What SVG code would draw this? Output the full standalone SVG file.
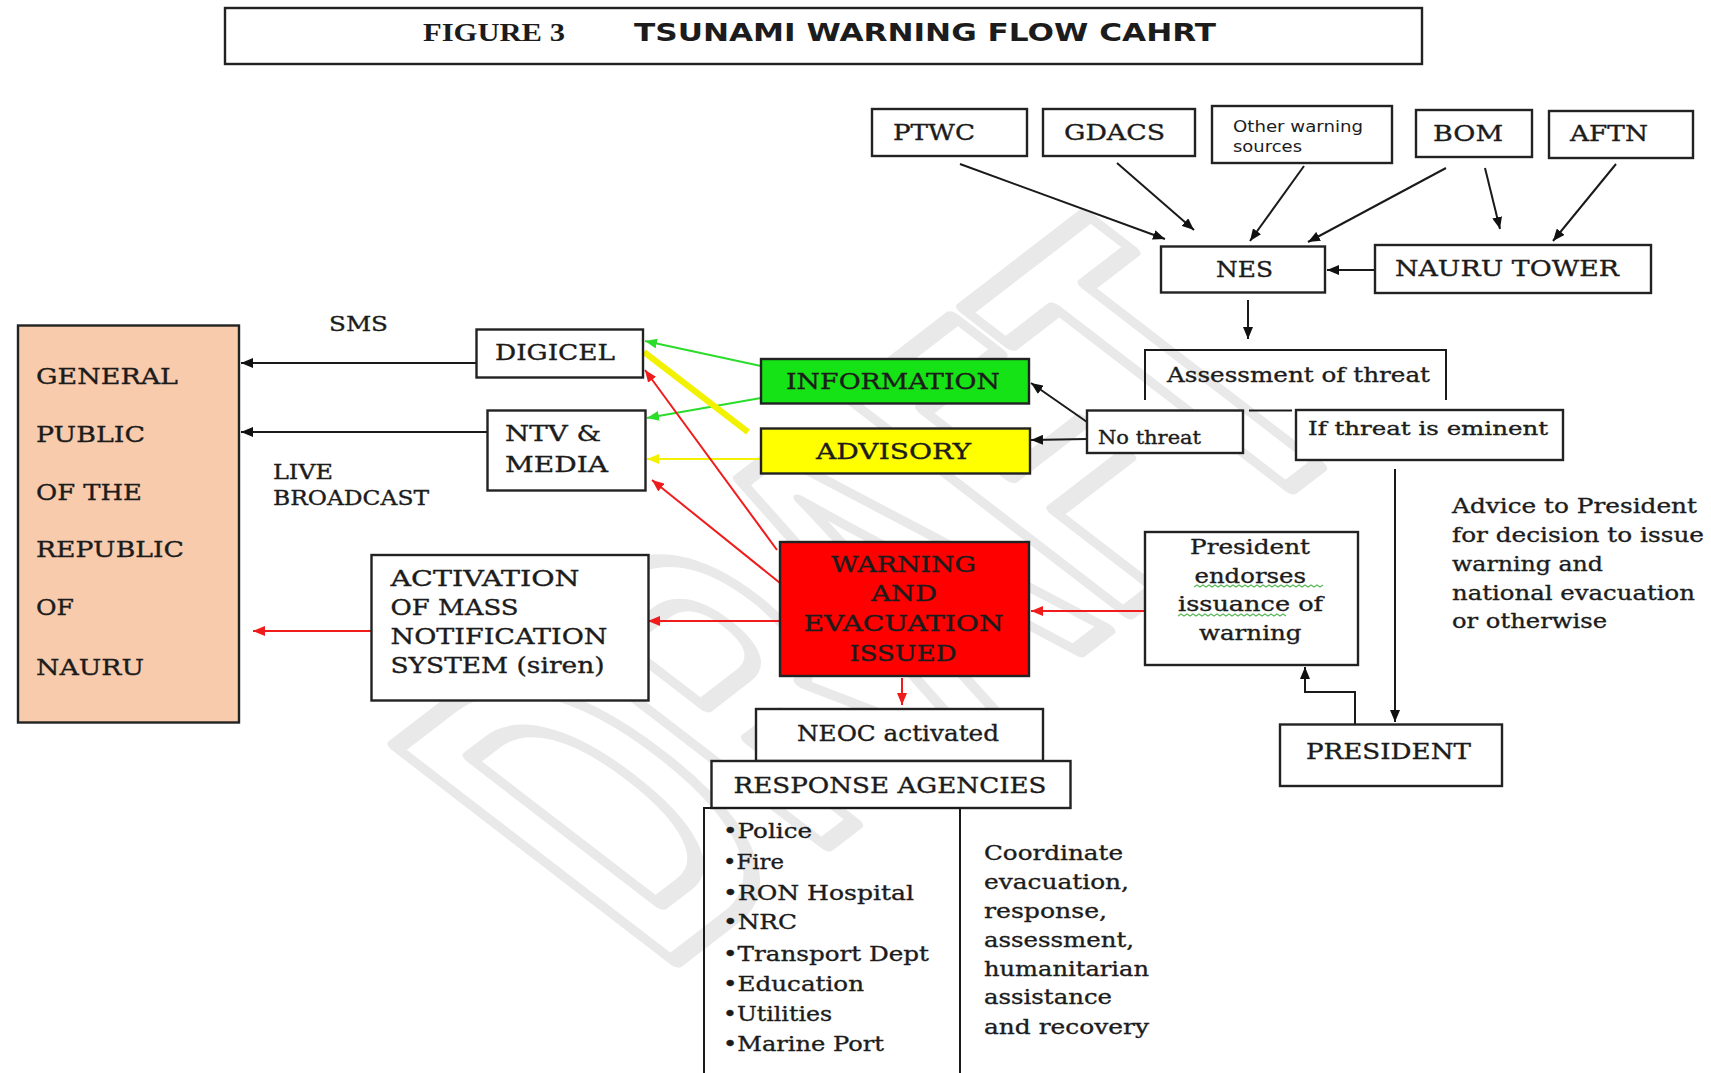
<svg xmlns="http://www.w3.org/2000/svg" width="1711" height="1073" viewBox="0 0 1711 1073">
<defs>
<style>
.bx{fill:#fff;stroke:#222;stroke-width:2.4}
.t{font-family:"DejaVu Serif","Liberation Serif",serif;fill:#1c1c1c;stroke:#1c1c1c;stroke-width:0.35}
.s{font-family:"DejaVu Sans","Liberation Sans",sans-serif;fill:#1c1c1c}
.ln{fill:none;stroke:#1a1a1a;stroke-width:2}
.rd{fill:none;stroke:#f01c1c;stroke-width:2}
.gr{fill:none;stroke:#2bdc2b;stroke-width:2}
.ye{fill:none;stroke:#f2f200;stroke-width:2}
.sq{fill:none;stroke:#5cb85c;stroke-width:1.3}
</style>
<marker id="ab" viewBox="0 0 12 10" refX="12" refY="5" markerWidth="12" markerHeight="10" markerUnits="userSpaceOnUse" orient="auto"><path d="M0,0 L12,5 L0,10 z" fill="#111"/></marker>
<marker id="ar" viewBox="0 0 12 10" refX="12" refY="5" markerWidth="12" markerHeight="10" markerUnits="userSpaceOnUse" orient="auto"><path d="M0,0 L12,5 L0,10 z" fill="#f01c1c"/></marker>
<marker id="ag" viewBox="0 0 12 10" refX="12" refY="5" markerWidth="12" markerHeight="10" markerUnits="userSpaceOnUse" orient="auto"><path d="M0,0 L12,5 L0,10 z" fill="#2bdc2b"/></marker>
<marker id="ay" viewBox="0 0 12 10" refX="12" refY="5" markerWidth="12" markerHeight="10" markerUnits="userSpaceOnUse" orient="auto"><path d="M0,0 L12,5 L0,10 z" fill="#f2f200"/></marker>
</defs>
<rect width="1711" height="1073" fill="#fff"/>

<g id="watermark">
<text transform="translate(660,972) scale(1.3,1) rotate(-45)" x="0" y="0" font-family="Liberation Sans, sans-serif" font-weight="bold" font-size="440" textLength="770" lengthAdjust="spacingAndGlyphs" fill="none" stroke="#e9e9e9" stroke-width="16" stroke-linejoin="round">DRAFT</text>
</g>

<g id="title">
<rect class="bx" x="225" y="8" width="1197" height="56"/>
<text x="423" y="41" font-family="Liberation Serif, serif" font-weight="bold" font-size="25" fill="#1c1c1c" textLength="142" lengthAdjust="spacingAndGlyphs">FIGURE 3</text>
<text x="634" y="41" font-family="DejaVu Sans, sans-serif" font-weight="bold" font-size="24" fill="#1c1c1c" textLength="582" lengthAdjust="spacingAndGlyphs">TSUNAMI WARNING FLOW CAHRT</text>
</g>

<g id="connectors">
<path class="ln" d="M960,164 L1165,239" marker-end="url(#ab)"/>
<path class="ln" d="M1117,163 L1194,230" marker-end="url(#ab)"/>
<path class="ln" d="M1304,166 L1250,241" marker-end="url(#ab)"/>
<path class="ln" d="M1446,168 L1308,242" marker-end="url(#ab)"/>
<path class="ln" d="M1485,168 L1500,229" marker-end="url(#ab)"/>
<path class="ln" d="M1616,164 L1553,241" marker-end="url(#ab)"/>
<path class="ln" d="M1374,270 L1327,270" marker-end="url(#ab)"/>
<path class="ln" d="M1248,300 L1248,339" marker-end="url(#ab)"/>
<path class="ln" d="M1087,422 L1031,383" marker-end="url(#ab)"/>
<path class="ln" d="M1087,439 L1031,440" marker-end="url(#ab)"/>
<path class="ln" d="M1395,469 L1395,722" marker-end="url(#ab)"/>
<path class="ln" d="M1355,724 L1355,692 L1305,692 L1305,667" marker-end="url(#ab)"/>
<path class="ln" d="M476,363 L241,363" marker-end="url(#ab)"/>
<path class="ln" d="M487,432 L241,432" marker-end="url(#ab)"/>
<path class="gr" d="M761,366 L645,341" marker-end="url(#ag)"/>
<path class="gr" d="M761,398 L647,418" marker-end="url(#ag)"/>
<path d="M748,432 L644,352" fill="none" stroke="#f2f200" stroke-width="6"/>
<path class="ye" d="M761,459 L647,459" marker-end="url(#ay)"/>
<path class="rd" d="M777,550 L645,370" marker-end="url(#ar)"/>
<path class="rd" d="M780,583 L652,480" marker-end="url(#ar)"/>
<path class="rd" d="M780,621 L648,621" marker-end="url(#ar)"/>
<path class="rd" d="M371,631 L253,631" marker-end="url(#ar)"/>
<path class="rd" d="M1145,611 L1031,611" marker-end="url(#ar)"/>
<path class="rd" d="M902,678 L902,705" marker-end="url(#ar)"/>
</g>

<g id="ptwc"><rect class="bx" x="872" y="109" width="155" height="47"/>
<text class="t" x="893" y="140" font-size="23" textLength="82" lengthAdjust="spacingAndGlyphs">PTWC</text></g>
<g id="gdacs"><rect class="bx" x="1043" y="109" width="152" height="47"/>
<text class="t" x="1064" y="140" font-size="23" textLength="101" lengthAdjust="spacingAndGlyphs">GDACS</text></g>
<g id="other"><rect class="bx" x="1212" y="106" width="180" height="57"/>
<text class="s" x="1233" y="132" font-size="15" textLength="130" lengthAdjust="spacingAndGlyphs">Other warning</text>
<text class="s" x="1233" y="151.5" font-size="15" textLength="69" lengthAdjust="spacingAndGlyphs">sources</text></g>
<g id="bom"><rect class="bx" x="1416" y="110" width="116" height="47"/>
<text class="t" x="1433" y="141" font-size="23" textLength="70" lengthAdjust="spacingAndGlyphs">BOM</text></g>
<g id="aftn"><rect class="bx" x="1549" y="111" width="144" height="47"/>
<text class="t" x="1570" y="141" font-size="23" textLength="78" lengthAdjust="spacingAndGlyphs">AFTN</text></g>

<g id="nes"><rect class="bx" x="1161" y="246.5" width="164" height="46"/>
<text class="t" x="1216" y="277" font-size="23" textLength="57" lengthAdjust="spacingAndGlyphs">NES</text></g>
<g id="nauru-tower"><rect class="bx" x="1375" y="245" width="276" height="48"/>
<text class="t" x="1395" y="276" font-size="23" textLength="224" lengthAdjust="spacingAndGlyphs">NAURU TOWER</text></g>

<g id="assessment">
<path class="ln" d="M1145,400 V350 H1446 V400" stroke="#222" stroke-width="2.4"/>
<path class="ln" d="M1249,410.5 H1292" stroke="#222" stroke-width="2.4"/>
<text class="t" x="1167" y="382" font-size="21" textLength="263" lengthAdjust="spacingAndGlyphs">Assessment of threat</text></g>
<g id="no-threat"><rect class="bx" x="1087" y="410.5" width="156" height="42.5"/>
<text class="t" x="1098" y="444" font-size="18" textLength="103" lengthAdjust="spacingAndGlyphs">No threat</text></g>
<g id="if-threat"><rect class="bx" x="1296" y="410" width="267" height="50"/>
<text class="t" x="1308" y="435" font-size="19" textLength="240" lengthAdjust="spacingAndGlyphs">If threat is eminent</text></g>

<g id="information"><rect x="761" y="359" width="268" height="44.5" fill="#16e316" stroke="#222" stroke-width="2.4"/>
<text class="t" x="786" y="389" font-size="22" textLength="214" lengthAdjust="spacingAndGlyphs">INFORMATION</text></g>
<g id="advisory"><rect x="761" y="428.5" width="269" height="45" fill="#ffff00" stroke="#222" stroke-width="2.4"/>
<text class="t" x="816" y="459" font-size="22" textLength="155" lengthAdjust="spacingAndGlyphs">ADVISORY</text></g>

<g id="digicel"><rect class="bx" x="476.5" y="329.5" width="166.5" height="48"/>
<text class="t" x="495" y="360" font-size="22" textLength="120" lengthAdjust="spacingAndGlyphs">DIGICEL</text></g>
<g id="ntv-media"><rect class="bx" x="487.5" y="410.5" width="158" height="80"/>
<text class="t" x="505" y="441" font-size="22" textLength="96" lengthAdjust="spacingAndGlyphs">NTV &amp;</text>
<text class="t" x="505" y="472" font-size="22" textLength="103" lengthAdjust="spacingAndGlyphs">MEDIA</text></g>

<g id="labels">
<text class="t" x="329" y="331" font-size="21" textLength="59" lengthAdjust="spacingAndGlyphs">SMS</text>
<text class="t" x="273" y="479" font-size="20" textLength="60" lengthAdjust="spacingAndGlyphs">LIVE</text>
<text class="t" x="273" y="504.5" font-size="20" textLength="156" lengthAdjust="spacingAndGlyphs">BROADCAST</text>
</g>

<g id="general-public"><rect x="18" y="325.5" width="221" height="397" fill="#f8cbad" stroke="#222" stroke-width="2.4"/>
<text class="t" x="36" y="384" font-size="23" textLength="142" lengthAdjust="spacingAndGlyphs">GENERAL</text>
<text class="t" x="36" y="442" font-size="23" textLength="109" lengthAdjust="spacingAndGlyphs">PUBLIC</text>
<text class="t" x="36" y="500" font-size="23" textLength="106" lengthAdjust="spacingAndGlyphs">OF THE</text>
<text class="t" x="36" y="557" font-size="23" textLength="148" lengthAdjust="spacingAndGlyphs">REPUBLIC</text>
<text class="t" x="36" y="615" font-size="23" textLength="38" lengthAdjust="spacingAndGlyphs">OF</text>
<text class="t" x="36" y="675" font-size="23" textLength="108" lengthAdjust="spacingAndGlyphs">NAURU</text></g>

<g id="warning"><rect x="780" y="542" width="249" height="134" fill="#ff0000" stroke="#222" stroke-width="2.4"/>
<text class="t" x="831" y="572" font-size="22" fill="#2a0000" textLength="145" lengthAdjust="spacingAndGlyphs">WARNING</text>
<text class="t" x="871" y="601" font-size="22" fill="#2a0000" textLength="66" lengthAdjust="spacingAndGlyphs">AND</text>
<text class="t" x="803.5" y="631" font-size="22" fill="#2a0000" textLength="200" lengthAdjust="spacingAndGlyphs">EVACUATION</text>
<text class="t" x="849.5" y="661" font-size="22" fill="#2a0000" textLength="107" lengthAdjust="spacingAndGlyphs">ISSUED</text></g>

<g id="activation"><rect class="bx" x="371.5" y="555" width="277" height="145.5"/>
<text class="t" x="390.5" y="586" font-size="22" textLength="189" lengthAdjust="spacingAndGlyphs">ACTIVATION</text>
<text class="t" x="390.5" y="615" font-size="22" textLength="128" lengthAdjust="spacingAndGlyphs">OF MASS</text>
<text class="t" x="390.5" y="644" font-size="22" textLength="217" lengthAdjust="spacingAndGlyphs">NOTIFICATION</text>
<text class="t" x="390.5" y="673" font-size="22" textLength="214" lengthAdjust="spacingAndGlyphs">SYSTEM (siren)</text></g>

<g id="president-endorses"><rect class="bx" x="1145" y="532" width="213" height="133"/>
<text class="t" x="1190" y="554" font-size="20" textLength="120" lengthAdjust="spacingAndGlyphs">President</text>
<text class="t" x="1194.5" y="583" font-size="20" textLength="111.5" lengthAdjust="spacingAndGlyphs">endorses</text>
<text class="t" x="1178" y="611" font-size="20" textLength="145" lengthAdjust="spacingAndGlyphs">issuance of</text>
<text class="t" x="1199" y="640" font-size="20" textLength="102.5" lengthAdjust="spacingAndGlyphs">warning</text>
<path class="sq" d="M1194,587 l3,-2 l3,2 l3,-2 l3,2 l3,-2 l3,2 l3,-2 l3,2 l3,-2 l3,2 l3,-2 l3,2 l3,-2 l3,2 l3,-2 l3,2 l3,-2 l3,2 l3,-2 l3,2 l3,-2 l3,2 l3,-2 l3,2 l3,-2 l3,2 l3,-2 l3,2 l3,-2 l3,2 l3,-2 l3,2 l3,-2 l3,2 l3,-2 l3,2 l3,-2 l3,2 l3,-2 l3,2 l3,-2 l3,2 l3,-2"/>
<path class="sq" d="M1178,616 l3,-2 l3,2 l3,-2 l3,2 l3,-2 l3,2 l3,-2 l3,2 l3,-2 l3,2 l3,-2 l3,2 l3,-2 l3,2 l3,-2 l3,2 l3,-2 l3,2 l3,-2 l3,2 l3,-2 l3,2 l3,-2 l3,2 l3,-2 l3,2 l3,-2 l3,2 l3,-2 l3,2 l3,-2 l3,2 l3,-2 l3,2 l3,-2 l3,2"/>
</g>

<g id="advice">
<text class="t" x="1452" y="513" font-size="20" textLength="245" lengthAdjust="spacingAndGlyphs">Advice to President</text>
<text class="t" x="1452" y="542" font-size="20" textLength="252" lengthAdjust="spacingAndGlyphs">for decision to issue</text>
<text class="t" x="1452" y="571" font-size="20" textLength="151" lengthAdjust="spacingAndGlyphs">warning and</text>
<text class="t" x="1452" y="600" font-size="20" textLength="243" lengthAdjust="spacingAndGlyphs">national evacuation</text>
<text class="t" x="1452" y="628" font-size="20" textLength="155" lengthAdjust="spacingAndGlyphs">or otherwise</text>
</g>

<g id="president"><rect class="bx" x="1280" y="724.5" width="222" height="61.5"/>
<text class="t" x="1306" y="759" font-size="22" textLength="165" lengthAdjust="spacingAndGlyphs">PRESIDENT</text></g>

<g id="neoc"><rect class="bx" x="756" y="709" width="287" height="52"/>
<text class="t" x="797" y="741" font-size="22" textLength="202" lengthAdjust="spacingAndGlyphs">NEOC activated</text></g>
<g id="response-agencies"><rect class="bx" x="711.5" y="761" width="359" height="47"/>
<text class="t" x="733.5" y="793" font-size="22" textLength="313" lengthAdjust="spacingAndGlyphs">RESPONSE AGENCIES</text></g>

<g id="agency-list">
<path class="ln" d="M704,1075 V808 H960 V1075" stroke="#222" stroke-width="2.4"/>
<text class="t" x="723" y="838" font-size="20" textLength="89" lengthAdjust="spacingAndGlyphs">•Police</text>
<text class="t" x="723" y="869" font-size="20" textLength="61" lengthAdjust="spacingAndGlyphs">•Fire</text>
<text class="t" x="723" y="900" font-size="20" textLength="191" lengthAdjust="spacingAndGlyphs">•RON Hospital</text>
<text class="t" x="723" y="929" font-size="20" textLength="74" lengthAdjust="spacingAndGlyphs">•NRC</text>
<text class="t" x="723" y="961" font-size="20" textLength="206" lengthAdjust="spacingAndGlyphs">•Transport Dept</text>
<text class="t" x="723" y="991" font-size="20" textLength="141" lengthAdjust="spacingAndGlyphs">•Education</text>
<text class="t" x="723" y="1021" font-size="20" textLength="109" lengthAdjust="spacingAndGlyphs">•Utilities</text>
<text class="t" x="723" y="1051" font-size="20" textLength="161" lengthAdjust="spacingAndGlyphs">•Marine Port</text>
</g>

<g id="coordinate">
<text class="t" x="984" y="860" font-size="20" textLength="139" lengthAdjust="spacingAndGlyphs">Coordinate</text>
<text class="t" x="984" y="889" font-size="20" textLength="145" lengthAdjust="spacingAndGlyphs">evacuation,</text>
<text class="t" x="984" y="918" font-size="20" textLength="123" lengthAdjust="spacingAndGlyphs">response,</text>
<text class="t" x="984" y="947" font-size="20" textLength="150" lengthAdjust="spacingAndGlyphs">assessment,</text>
<text class="t" x="984" y="976" font-size="20" textLength="165" lengthAdjust="spacingAndGlyphs">humanitarian</text>
<text class="t" x="984" y="1004" font-size="20" textLength="128" lengthAdjust="spacingAndGlyphs">assistance</text>
<text class="t" x="984" y="1034" font-size="20" textLength="165" lengthAdjust="spacingAndGlyphs">and recovery</text>
</g>
</svg>
